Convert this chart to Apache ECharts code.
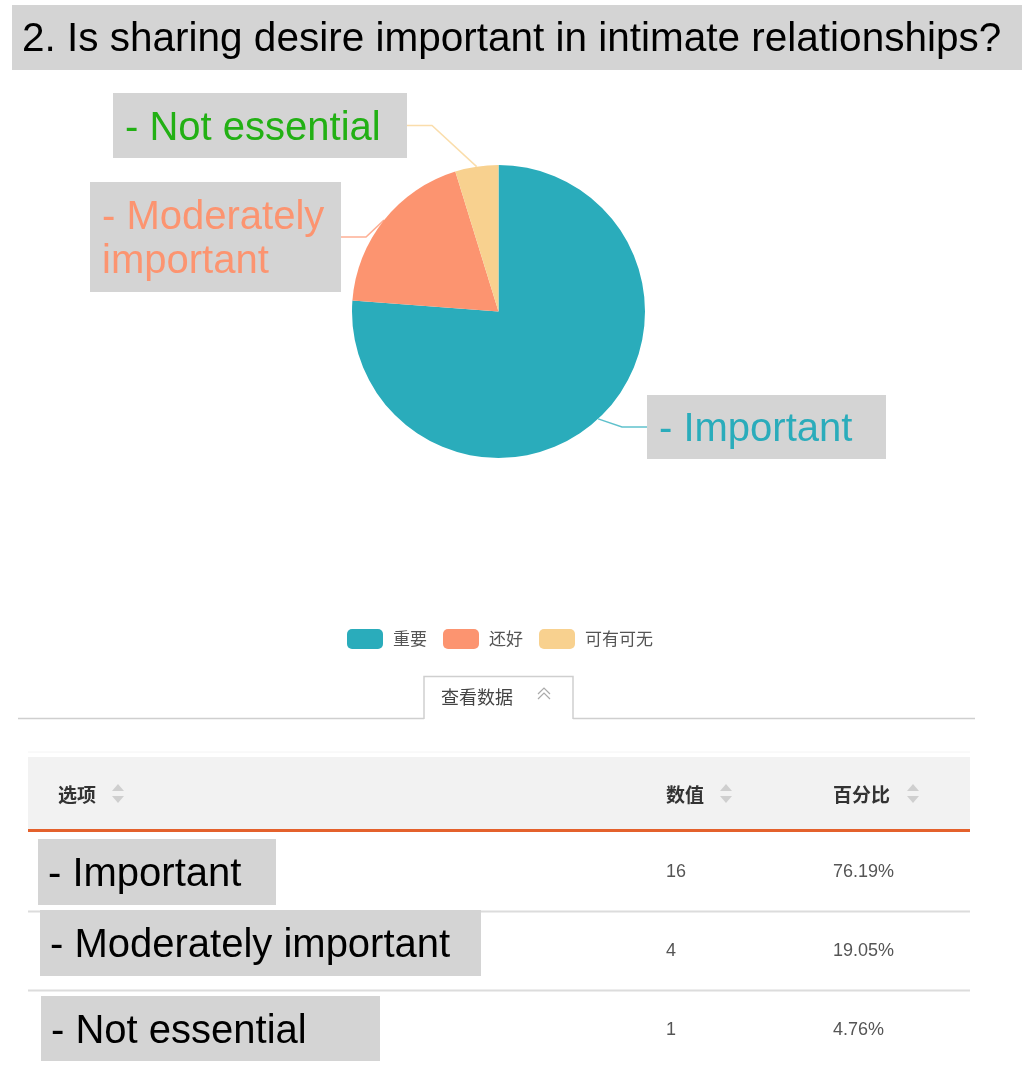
<!DOCTYPE html>
<html>
<head>
<meta charset="utf-8">
<script src="https://cdn.jsdelivr.net/npm/echarts@6/dist/echarts.min.js"></script>
<style>
  html, body { margin: 0; padding: 0; background: #fff; }
  #main { width: 1025px; height: 1068px; }
</style>
</head>
<body>
<div id="main"></div>
<script>
// legend / slice names
const categories = ['重要', '还好', '可有可无'];
// english captions pasted over the chart
const pieCaptions = ['- Important', '- Moderately\nimportant', '- Not essential'];
const rowCaptions = ['- Important', '- Moderately important', '- Not essential'];
// answers
const counts = [16, 4, 1];
const percents = ['76.19%', '19.05%', '4.76%'];
const headers = ['选项', '数值', '百分比'];

const titleText = '2. Is sharing desire important in intimate relationships?';

const sliceColors = ['#2aacbb', '#fc9470', '#f8d18f'];
const captionColors = ['#2aacbb', '#fc9470', '#22b014'];

// caption boxes: left, top, width, height
const pieCaptionBoxes = [[647, 395, 239, 64], [90, 182, 251, 110], [113, 93, 294, 65]];
const rowCaptionBoxes = [[38, 839, 238, 66], [40, 910, 441, 66], [41, 996, 339, 65]];

const FONT_EN = '"Liberation Sans", Arial, Helvetica, sans-serif';
const FONT_CN = '"Noto Sans CJK SC", sans-serif';

const headerX = [58, 666, 833];
const rowY0 = 872, rowStep = 79;

let chart = echarts.init(document.getElementById('main'), null, { renderer: 'canvas' });

function txt(x, y, text, size, color, opts) {
  opts = opts || {};
  return {
    type: 'text', x: x, y: y, z: opts.z || 10,
    style: {
      text: text,
      fill: color,
      fontSize: size,
      fontFamily: opts.family || FONT_EN,
      fontWeight: opts.weight || 'normal',
      align: opts.align || 'left',
      textAlign: opts.align || 'left',
      verticalAlign: 'middle',
      textVerticalAlign: 'middle'
    }
  };
}
function line(x1, y1, x2, y2, color, w) {
  return { type: 'line', shape: { x1: x1, y1: y1, x2: x2, y2: y2 }, style: { stroke: color, lineWidth: w || 1 } };
}
function sortArrows(cx, cy) {
  return [
    { type: 'polygon', shape: { points: [[cx - 6, cy - 3], [cx + 6, cy - 3], [cx, cy - 10]] }, style: { fill: '#cfcfcf' } },
    { type: 'polygon', shape: { points: [[cx - 6, cy + 2], [cx + 6, cy + 2], [cx, cy + 9]] }, style: { fill: '#cfcfcf' } }
  ];
}

let graphics = [];
// title bar
graphics.push({ type: 'rect', shape: { x: 12, y: 5, width: 1010, height: 65 }, style: { fill: '#d4d4d4' } });
graphics.push(txt(22, 40, titleText, 40.5, '#000'));

// "查看数据" tab
graphics.push(line(18, 718.5, 424, 718.5, '#cfcfcf', 1.5));
graphics.push(line(573, 718.5, 975, 718.5, '#cfcfcf', 1.5));
graphics.push({ type: 'polyline', shape: { points: [[424, 719], [424, 676.5], [573, 676.5], [573, 719]] }, style: { stroke: '#cfcfcf', lineWidth: 1.5, fill: null } });
graphics.push(txt(441, 697, '查看数据', 18, '#444', { family: FONT_CN }));
graphics.push({ type: 'polyline', shape: { points: [[538, 694], [544, 688], [550, 694]] }, style: { stroke: '#aaa', lineWidth: 1.2, fill: null } });
graphics.push({ type: 'polyline', shape: { points: [[538, 699], [544, 693], [550, 699]] }, style: { stroke: '#aaa', lineWidth: 1.2, fill: null } });

// table header
graphics.push(line(28, 752, 970, 752, '#f4f4f4', 1));
graphics.push({ type: 'rect', shape: { x: 28, y: 757, width: 942, height: 73 }, style: { fill: '#f2f2f2' } });
graphics.push(line(28, 830.5, 970, 830.5, '#e4612c', 3));
headers.forEach(function (h, i) {
  graphics.push(txt(headerX[i], 795, h, 19, '#333', { family: FONT_CN, weight: 'bold' }));
  graphics = graphics.concat(sortArrows(headerX[i] + h.length * 20 + 20, 794));
});

// table rows
counts.forEach(function (c, i) {
  let cy = rowY0 + i * rowStep;
  graphics.push(txt(headerX[1], cy, String(c), 18, '#555'));
  graphics.push(txt(headerX[2], cy, percents[i], 18, '#555'));
  if (i < counts.length - 1) graphics.push(line(28, cy + 39.5, 970, cy + 39.5, '#dcdcdc', 2));
  let b = rowCaptionBoxes[i];
  graphics.push({ type: 'rect', z: 20, shape: { x: b[0], y: b[1], width: b[2], height: b[3] }, style: { fill: '#d4d4d4' } });
  graphics.push(txt(b[0] + 10, b[1] + b[3] / 2 + 3, rowCaptions[i], 40, '#000', { z: 21 }));
});

let option = {
  animation: false,
  color: sliceColors,
  legend: {
    top: 624,
    left: 342,
    icon: 'roundRect',
    itemWidth: 36,
    itemHeight: 20,
    itemGap: 16,
    textStyle: { fontSize: 17, color: '#555', fontFamily: FONT_CN, padding: [0, 0, 0, 5] },
    data: categories
  },
  series: [
    {
      type: 'pie',
      center: [498.5, 311.5],
      radius: 146.5,
      startAngle: 90,
      clockwise: true,
      label: {
        show: true,
        fontSize: 40,
        fontFamily: FONT_EN,
        lineHeight: 44,
        backgroundColor: '#d4d4d4',
        align: 'left',
        formatter: function (p) { return pieCaptions[p.dataIndex]; }
      },
      labelLine: { show: true, length: 15, length2: 25, lineStyle: { width: 1.5, opacity: 0.75 } },
      labelLayout: function (p) {
        let b = pieCaptionBoxes[p.dataIndex];
        return { x: b[0], y: b[1], align: 'left', verticalAlign: 'top' };
      },
      data: categories.map(function (name, i) {
        let b = pieCaptionBoxes[i];
        let pad = (b[3] - 44 * pieCaptions[i].split('\n').length) / 2;
        return {
          name: name,
          value: counts[i],
          label: { color: captionColors[i], width: b[2] - 12, padding: [pad + 3, 0, pad - 3, 12] }
        };
      })
    }
  ],
  graphic: graphics
};

chart.setOption(option);
</script>
</body>
</html>
